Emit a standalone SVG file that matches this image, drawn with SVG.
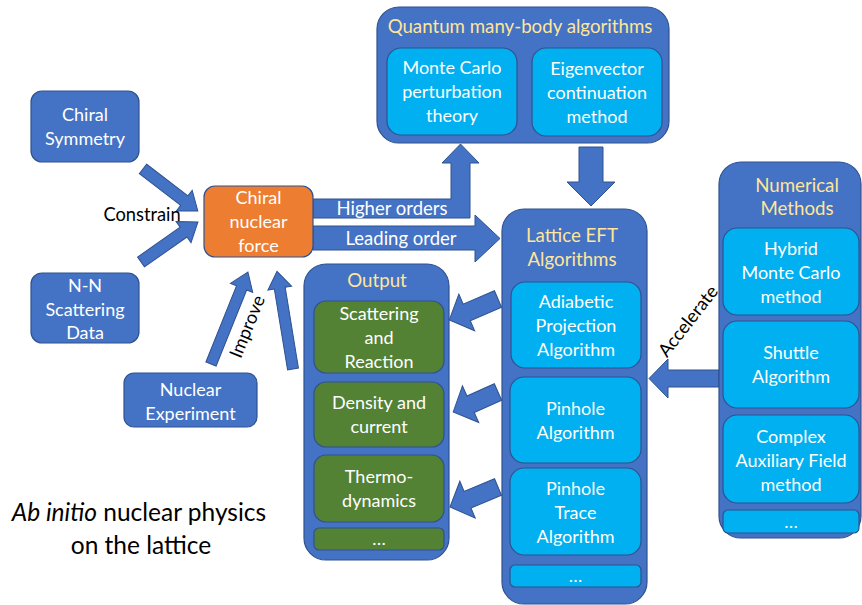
<svg xmlns="http://www.w3.org/2000/svg" width="862" height="605" viewBox="0 0 862 605">
<style>
.blue{fill:#4472C4;stroke:#2F528F;stroke-width:1.2}
.cyan{fill:#00B0F0;stroke:#2F528F;stroke-width:1.2}
.green{fill:#548235;stroke:#2F528F;stroke-width:1.2}
.orange{fill:#ED7D31;stroke:#2F528F;stroke-width:1.2}
.arr{fill:#4472C4;stroke:#2F528F;stroke-width:1}
text{font-family:Lato,"Liberation Sans",sans-serif;text-anchor:middle}
.w{fill:#FFFFFF;font-size:18px}
.t{fill:#FFE699;font-size:18.7px}
.lbl{fill:#000000;font-size:18.3px}
.al{fill:#FFFFFF;font-size:18.5px}
.cap{fill:#000000;font-size:24.5px}
</style>
<rect width="862" height="605" fill="#FFFFFF"/>

<g id="connectors">
<path class="arr" transform="translate(143,169) rotate(37.4)" d="M0,-6 L52,-6 L52,-13 L69,0 L52,13 L52,6 L0,6 Z"/>
<path class="arr" transform="translate(141,262) rotate(-35.1)" d="M0,-6 L52,-6 L52,-13 L69.6,0 L52,13 L52,6 L0,6 Z"/>
<path class="arr" transform="translate(211,364) rotate(-68.1)" d="M0,-5.5 L82,-5.5 L82,-12 L99,0 L82,12 L82,5.5 L0,5.5 Z"/>
<path class="arr" transform="translate(293,369) rotate(-99.3)" d="M0,-5.5 L82,-5.5 L82,-12 L99,0 L82,12 L82,5.5 L0,5.5 Z"/>
<path class="arr" d="M313,199 L451,199 L451,163 L442,163 L460.5,144 L479,163 L470,163 L470,218 L313,218 Z"/>
<path class="arr" d="M313,226 L475,226 L475,215 L500,238.5 L475,262 L475,250 L313,250 Z"/>
<path class="arr" d="M579,147 L603,147 L603,182 L615,182 L591,206 L567,182 L579,182 Z"/>
<path class="arr" d="M719,370 L668,370 L668,359 L649,378.5 L668,398 L668,387 L719,387 Z"/>
<path class="arr" transform="translate(498,299) rotate(156.8)" d="M0,-9 L34,-9 L34,-20 L53,0 L34,20 L34,9 L0,9 Z"/>
<path class="arr" transform="translate(498,392) rotate(156)" d="M0,-9 L30,-9 L30,-20 L49,0 L30,20 L30,9 L0,9 Z"/>
<path class="arr" transform="translate(498,487) rotate(157.4)" d="M0,-9 L33,-9 L33,-20 L52,0 L33,20 L33,9 L0,9 Z"/>
<text class="lbl" x="142" y="221">Constrain</text>
<text class="lbl" transform="translate(253,329) rotate(-68)">Improve</text>
<text class="lbl" transform="translate(693,325) rotate(-52)">Accelerate</text>
<text class="al" x="392" y="215">Higher orders</text>
<text class="al" x="401" y="245">Leading order</text>
</g>

<g id="chiral-symmetry">
<rect class="blue" x="31" y="91" width="108" height="71" rx="11"/>
<text class="w" x="85" y="121">Chiral</text>
<text class="w" x="85" y="145">Symmetry</text>
</g>

<g id="nn-scattering">
<rect class="blue" x="31" y="273" width="108" height="70" rx="11"/>
<text class="w" x="85" y="292">N-N</text>
<text class="w" x="85" y="316">Scattering</text>
<text class="w" x="85" y="339">Data</text>
</g>

<g id="nuclear-experiment">
<rect class="blue" x="124" y="373" width="133" height="54" rx="10"/>
<text class="w" x="190.5" y="396">Nuclear</text>
<text class="w" x="190.5" y="420">Experiment</text>
</g>

<g id="chiral-force">
<rect class="orange" x="204" y="186" width="109" height="71" rx="11"/>
<text class="w" x="258.5" y="204">Chiral</text>
<text class="w" x="258.5" y="228">nuclear</text>
<text class="w" x="258.5" y="252">force</text>
</g>

<g id="quantum">
<rect class="blue" x="377" y="7" width="292" height="136" rx="22"/>
<text class="t" x="520" y="33">Quantum many-body algorithms</text>
<g id="mc-perturbation">
<rect class="cyan" x="387" y="48" width="130" height="87" rx="14"/>
<text class="w" x="452" y="74">Monte Carlo</text>
<text class="w" x="452" y="98">perturbation</text>
<text class="w" x="452" y="122">theory</text>
</g>
<g id="eigenvector">
<rect class="cyan" x="532" y="48" width="130" height="88" rx="14"/>
<text class="w" x="597" y="75">Eigenvector</text>
<text class="w" x="597" y="99">continuation</text>
<text class="w" x="597" y="123">method</text>
</g>
</g>

<g id="lattice">
<rect class="blue" x="502" y="209" width="145" height="395" rx="22"/>
<text class="t" x="572" y="242">Lattice EFT</text>
<text class="t" x="572" y="266">Algorithms</text>
<g id="adiabatic">
<rect class="cyan" x="511" y="282" width="130" height="86" rx="14"/>
<text class="w" x="576" y="308">Adiabetic</text>
<text class="w" x="576" y="332">Projection</text>
<text class="w" x="576" y="356">Algorithm</text>
</g>
<g id="pinhole">
<rect class="cyan" x="510" y="377" width="131" height="86" rx="14"/>
<text class="w" x="575.5" y="415">Pinhole</text>
<text class="w" x="575.5" y="439">Algorithm</text>
</g>
<g id="pinhole-trace">
<rect class="cyan" x="510" y="468" width="131" height="87" rx="14"/>
<text class="w" x="575.5" y="495">Pinhole</text>
<text class="w" x="575.5" y="519">Trace</text>
<text class="w" x="575.5" y="543">Algorithm</text>
</g>
<g id="lattice-more">
<rect class="cyan" x="510" y="565" width="131" height="22" rx="5"/>
<text class="w" x="575.5" y="582">…</text>
</g>
</g>

<g id="numerical">
<rect class="blue" x="719" y="162" width="142" height="376" rx="22"/>
<text class="t" x="797" y="192">Numerical</text>
<text class="t" x="797" y="215">Methods</text>
<g id="hybrid-mc">
<rect class="cyan" x="723" y="228" width="136" height="87" rx="14"/>
<text class="w" x="791" y="255">Hybrid</text>
<text class="w" x="791" y="279">Monte Carlo</text>
<text class="w" x="791" y="303">method</text>
</g>
<g id="shuttle">
<rect class="cyan" x="723" y="321" width="136" height="87" rx="14"/>
<text class="w" x="791" y="359">Shuttle</text>
<text class="w" x="791" y="383">Algorithm</text>
</g>
<g id="complex-aux">
<rect class="cyan" x="723" y="415" width="136" height="88" rx="14"/>
<text class="w" x="791" y="443">Complex</text>
<text class="w" x="791" y="467">Auxiliary Field</text>
<text class="w" x="791" y="491">method</text>
</g>
<g id="numerical-more">
<rect class="cyan" x="723" y="510" width="136" height="23" rx="5"/>
<text class="w" x="791" y="528">…</text>
</g>
</g>

<g id="output">
<rect class="blue" x="304" y="264" width="145" height="296" rx="22"/>
<text class="t" x="377" y="287">Output</text>
<g id="scattering">
<rect class="green" x="314" y="301" width="130" height="72" rx="12"/>
<text class="w" x="379" y="320">Scattering</text>
<text class="w" x="379" y="344">and</text>
<text class="w" x="379" y="368">Reaction</text>
</g>
<g id="density">
<rect class="green" x="314" y="382" width="130" height="65" rx="12"/>
<text class="w" x="379" y="409">Density and</text>
<text class="w" x="379" y="433">current</text>
</g>
<g id="thermo">
<rect class="green" x="314" y="455" width="130" height="67" rx="12"/>
<text class="w" x="379" y="483">Thermo-</text>
<text class="w" x="379" y="507">dynamics</text>
</g>
<g id="output-more">
<rect class="green" x="314" y="528" width="130" height="22" rx="5"/>
<text class="w" x="379" y="545">…</text>
</g>
</g>

<g id="caption">
<text class="cap" x="139" y="521"><tspan font-style="italic">Ab initio</tspan> nuclear physics</text>
<text class="cap" x="141" y="554">on the lattice</text>
</g>
</svg>
